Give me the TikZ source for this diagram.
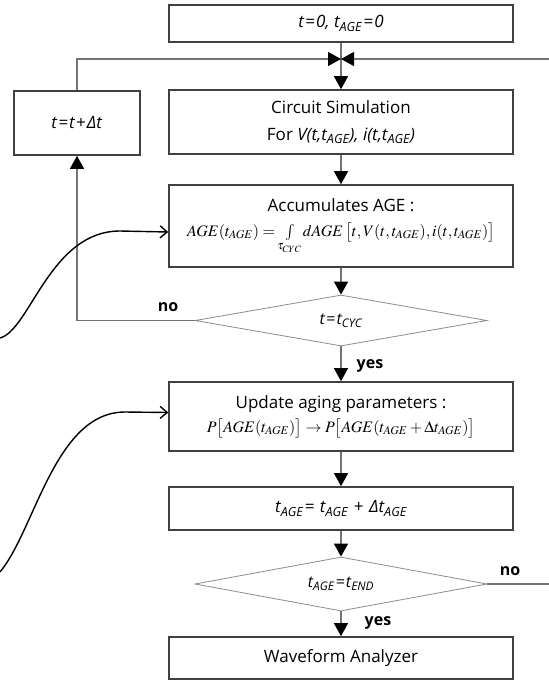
\documentclass[tikz,border=0pt]{standalone}
\usepackage{mathptmx}
\usepackage[no-math]{fontspec}
\setmainfont{Open Sans}
\usetikzlibrary{arrows.meta,shapes.geometric,calc}

% relation and operator signs with a little extra room
\newcommand{\eqs}{\kern1.2pt=\kern1.2pt}
\newcommand{\pls}{\kern1.2pt+\kern1.2pt}

\tikzset{
  stepbox/.style={draw=black!75, line width=1.6pt, minimum width=344pt,
    inner sep=0pt, align=center, font=\fontsize{17}{27}\selectfont},
  testbox/.style={diamond, draw=black!45, line width=0.8pt, inner sep=0pt,
    aspect=5.7, minimum width=292pt, font=\fontsize{16}{18}\selectfont},
  flow/.style={draw=black!55, line width=1.3pt},
  tip/.style={-{Triangle[length=13pt,width=14pt,color=black]}},
  feed/.style={draw=black, line width=1.4pt,
    -{Straight Barb[length=7pt,width=12pt]}},
  lbl/.style={font=\bfseries\fontsize{16}{18}\selectfont, inner sep=0pt},
  formula/.style={font=\fontsize{16}{18}\selectfont}
}

\begin{document}
\begin{tikzpicture}[x=1pt,y=-1pt]
  \useasboundingbox (0,0) rectangle (549,681);

  % process steps
  \node[stepbox, minimum height=37pt] (top) at (341,23.5)
    {\textit{t\eqs0, t\textsubscript{AGE}\eqs0}};
  \node[stepbox, minimum height=64pt] (circ) at (341,122)
    {Circuit Simulation\\For \textit{V(t,t\textsubscript{AGE}), i(t,t\textsubscript{AGE})}};
  \node[stepbox, minimum height=82pt] (accum) at (341,226)
    {Accumulates AGE :\\[-2pt]
     {\fontsize{16}{18}\selectfont
     $\displaystyle AGE(t_{AGE}) = \textstyle\int\limits_{\tau_{CYC}}\! dAGE\,\bigl[t, V(t,t_{AGE}), i(t,t_{AGE})\bigr]$}};
  \node[testbox, minimum height=51pt] (dia1) at (341,320.5)
    {\textit{t\eqs t\textsubscript{CYC}}};
  \node[stepbox, minimum height=69pt] (upd) at (341,416.5)
    {Update aging parameters :\\[-3pt]
     {\fontsize{16}{18}\selectfont
     $P\bigl[AGE(t_{AGE})\bigr] \rightarrow P\bigl[AGE(t_{AGE}+\Delta t_{AGE})\bigr]$}};
  \node[stepbox, minimum height=43pt] (tage) at (341,508.5)
    {\textit{t\textsubscript{AGE}\eqs\ t\textsubscript{AGE} \pls\ Δt\textsubscript{AGE}}};
  \node[testbox, minimum height=54pt] (dia2) at (341,584)
    {\textit{t\textsubscript{AGE}\eqs t\textsubscript{END}}};
  \node[stepbox, minimum height=42pt] (wave) at (341,658)
    {Waveform Analyzer};
  \node[stepbox, minimum width=126pt, minimum height=64pt] (tdt) at (77,123)
    {\textit{t\eqs t\pls Δt}};

  % junction and off-page ends
  \coordinate (jn) at (341,59);
  \coordinate (rin) at (549,59);
  \coordinate (rout) at (549,584);
  \coordinate (c1) at (0,338);
  \coordinate (c2) at (0,572);

  % main flow
  \draw[flow,tip] (top) -- (circ);
  \draw[flow,tip] (tdt.north) |- (jn);
  \draw[flow,tip] (rin) -- (jn);
  \draw[flow,tip] (circ) -- (accum);
  \draw[flow,tip] (accum) -- (dia1);
  \draw[flow,tip] (dia1.west) -| (tdt.south);
  \draw[flow,tip] (dia1) -- (upd);
  \draw[flow,tip] (upd) -- (tage);
  \draw[flow,tip] (tage) -- (dia2);
  \draw[flow,tip] (dia2) -- (wave);
  \draw[flow] (dia2.east) -- (rout);

  % branch labels
  \node[lbl] (no1) at (168,307) {no};
  \node[lbl] (yes1) at (370,366) {yes};
  \node[lbl] (no2) at (510,571) {no};
  \node[lbl] (yes2) at (378,623) {yes};

  % incoming curved arrows
  \draw[feed] (c1) .. controls (30,330) and (50,231) .. (120,231)
    -- ($(accum.west)+(0,6)$);
  \draw[feed] (c2) .. controls (35,530) and (55,412) .. (125,412)
    -- ($(upd.west)+(0,-4)$);
\end{tikzpicture}
\end{document}
